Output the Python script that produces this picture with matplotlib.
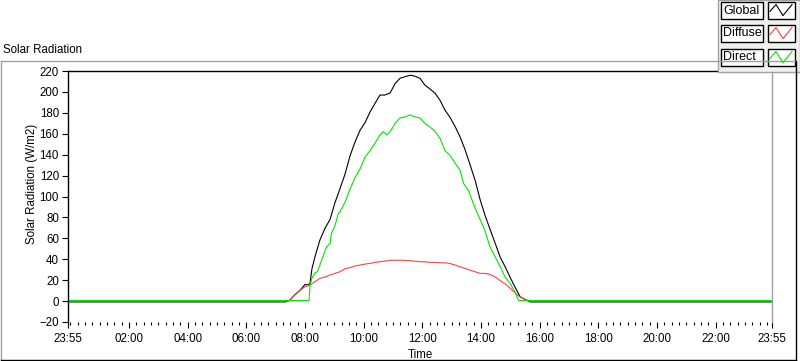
import matplotlib
matplotlib.use("Agg")
import matplotlib.pyplot as plt
from matplotlib.lines import Line2D
from matplotlib.patches import Rectangle

plt.rcParams['font.family'] = ['Liberation Sans', 'DejaVu Sans']
plt.rcParams['font.size'] = 8.3

# readings taken off the reference chart (time of day, W/m2)
global_times = ["23:55", "07:20", "07:29", "07:39", "07:50", "08:00", "08:06", "08:10", "08:14", "08:20",
                "08:30", "08:41", "08:51", "09:01", "09:11", "09:22", "09:32", "09:42", "09:52", "10:03",
                "10:13", "10:23", "10:33", "10:43", "10:54", "11:04", "11:14", "11:24", "11:35", "11:45",
                "11:55", "12:05", "12:15", "12:26", "12:36", "12:46", "12:56", "13:07", "13:17", "13:27",
                "13:37", "13:48", "13:58", "14:08", "14:18", "14:29", "14:39", "14:49", "14:59", "15:09",
                "15:20", "15:30", "15:40", "23:55+"]
global_vals = [-0.8, -0.8, 1, 6, 10.5, 16, 15.3, 17, 31, 42,
               58, 70, 78, 94, 107, 122, 139, 152, 163, 171,
               181, 189, 197, 197, 199, 208, 213, 214.5, 216, 215,
               213, 206.5, 203, 198.6, 192, 182.6, 176, 166.7, 157, 145,
               131, 115, 97, 82, 69, 55, 42, 33, 23, 13.7,
               4, 1.6, -0.8, -0.8]

diffuse_times = ["23:55", "07:25", "07:29", "07:39", "07:50", "08:00", "08:10", "08:20", "08:30", "08:41",
                 "08:51", "09:01", "09:11", "09:22", "09:32", "09:42", "09:52", "10:03", "10:13", "10:23",
                 "10:33", "10:43", "10:54", "11:04", "11:14", "11:24", "11:35", "11:45", "11:55", "12:05",
                 "12:15", "12:26", "12:36", "12:46", "12:56", "13:07", "13:17", "13:27", "13:37", "13:48",
                 "13:58", "14:08", "14:18", "14:29", "14:39", "14:49", "14:59", "15:09", "15:20", "15:30",
                 "15:40", "23:55+"]
diffuse_vals = [0, 0, 1, 6, 10.5, 13.7, 15.3, 18.5, 21.7, 23,
                25, 26.5, 28, 31, 32, 33.5, 34.4, 35.4, 36, 37,
                37.6, 38.2, 39, 39, 39, 39, 38.5, 38.2, 37.6, 37.6,
                37, 37, 36.6, 36.6, 36, 34.4, 32.8, 31.3, 29.6, 28,
                26.5, 26.5, 25.5, 23, 19.5, 16.5, 12.5, 8, 3.8, 1.6,
                0, 0]

direct_times = ["23:55", "08:08", "08:10", "08:14", "08:20", "08:25", "08:30", "08:36", "08:44", "08:51",
                "08:54", "09:01", "09:08", "09:11", "09:22", "09:32", "09:42", "09:52", "10:03", "10:13",
                "10:23", "10:33", "10:40", "10:47", "10:54", "11:04", "11:14", "11:24", "11:35", "11:45",
                "11:55", "12:05", "12:15", "12:26", "12:36", "12:46", "12:56", "13:07", "13:17", "13:24",
                "13:34", "13:37", "13:48", "13:58", "14:08", "14:18", "14:29", "14:39", "14:49", "14:59",
                "15:09", "15:16", "15:20", "23:55+"]
direct_vals = [0.5, 0.5, 15, 22, 27, 28, 34, 42, 52, 55,
               65, 72, 84, 85, 95, 107, 118, 126, 138, 144,
               151, 159, 162, 159, 162, 170, 175, 176, 178, 176,
               175, 170, 166.7, 162, 155.6, 144, 139.6, 131.7, 125, 112.5,
               106, 102, 88.5, 78, 67, 52, 42, 33, 23, 17,
               9, 1, 0.5, 0.5]

series_names = ["Global", "Diffuse", "Direct"]
series_colors = ["#000000", "#ff4040", "#00e600"]

x_tick_hours = [-5 / 60, 2, 4, 6, 8, 10, 12, 14, 16, 18, 20, 22, 23 + 55 / 60]
x_tick_labels = ["23:55", "02:00", "04:00", "06:00", "08:00", "10:00", "12:00",
                 "14:00", "16:00", "18:00", "20:00", "22:00", "23:55"]
y_ticks = list(range(-20, 221, 20))


def to_hours(t):
    # "23:55" at the start is the previous evening, "23:55+" is the end of the day
    if t == "23:55":
        return -5 / 60
    if t == "23:55+":
        return 23 + 55 / 60
    hh, mm = t.split(":")
    return int(hh) + int(mm) / 60


fig = plt.figure(figsize=(8, 3.61), dpi=100)
ax = fig.add_axes([68 / 800, 1 - 322 / 361, 704 / 800, 251 / 361])

xs = [[to_hours(t) for t in global_times],
      [to_hours(t) for t in diffuse_times],
      [to_hours(t) for t in direct_times]]
ys = [global_vals, diffuse_vals, direct_vals]
for x, y, c in zip(xs, ys, series_colors):
    ax.plot(x, y, color=c, lw=0.8)

ax.set_xlim(-5 / 60, 23 + 55 / 60)
ax.set_ylim(-20, 220)
ax.set_yticks(y_ticks)
ax.set_xticks(x_tick_hours)
ax.set_xticklabels(x_tick_labels)
ax.set_xticks([q * 0.25 for q in range(96)], minor=True)
ax.tick_params(axis='y', which='major', length=4.5, width=0.8, pad=2, colors='black')
ax.tick_params(axis='x', which='major', length=4, width=0.8, pad=4, colors='black')
ax.tick_params(axis='x', which='minor', length=2.2, width=0.8)
ax.spines['top'].set_color('black')
ax.spines['left'].set_color('black')
ax.spines['right'].set_color('#a0a0a0')
ax.spines['bottom'].set_visible(False)
for s in ax.spines.values():
    s.set_linewidth(1)
ax.set_ylabel("Solar Radiation (W/m2)")
ax.yaxis.set_label_coords(-0.042, 0.55)
ax.set_xlabel("Time", labelpad=3)

# outer panel frame
fig.add_artist(Line2D([0.001, 0.995], [1 - 61 / 361] * 2, color='#a0a0a0', lw=1))
fig.add_artist(Line2D([0.001, 0.001], [0.003, 1 - 61 / 361], color='#a0a0a0', lw=1))
fig.add_artist(Line2D([0.995, 0.995], [0.003, 1 - 61 / 361], color='black', lw=1))
fig.add_artist(Line2D([0.001, 0.995], [0.003, 0.003], color='black', lw=1))
fig.text(3 / 800, 1 - 50 / 361, "Solar Radiation", va='center', ha='left')

# legend panel drawn the LabVIEW way: name box + swatch box per series
fig.add_artist(Rectangle((718 / 800, 1 - 72 / 361), 82 / 800, 72 / 361,
                         facecolor='#f0f0f0', edgecolor='#a0a0a0', lw=1))
row_tops = [2, 25, 49]
for name, c, top in zip(series_names, series_colors, row_tops):
    y0 = 1 - (top + 17) / 361
    h = 17 / 361
    fig.add_artist(Rectangle((721 / 800, y0), 42 / 800, h, facecolor='white',
                             edgecolor='black', lw=1))
    fig.text(723 / 800, y0 + h / 2, name, va='center', ha='left', fontsize=9)
    fig.add_artist(Rectangle((768 / 800, y0), 27 / 800, h, facecolor='white',
                             edgecolor='black', lw=1))
    zx = [770, 776, 783, 792]
    zy = [0.45, 0.85, 0.2, 0.85]
    fig.add_artist(Line2D([v / 800 for v in zx], [y0 + f * h for f in zy], color=c, lw=0.8))

fig.savefig("out.png", dpi=100)
